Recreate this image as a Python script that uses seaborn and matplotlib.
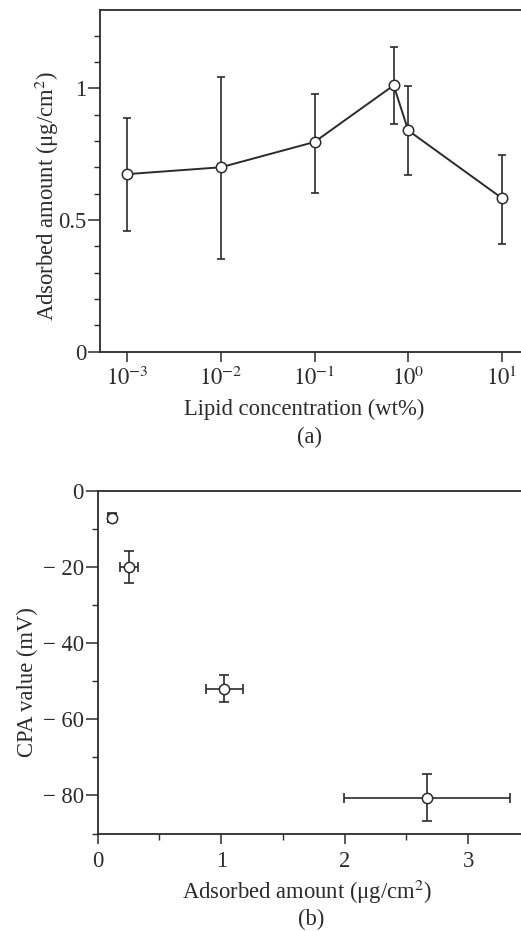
import matplotlib
matplotlib.use("Agg")
import matplotlib.pyplot as plt
import seaborn as sns
import numpy as np
import pandas as pd
from matplotlib.ticker import FixedLocator, MultipleLocator, FixedFormatter, NullFormatter

# ---- data (a) ----
lipid_conc = [0.001, 0.01, 0.1, 0.7, 1.0, 10.0]
adsorbed_a = [0.674, 0.700, 0.796, 1.011, 0.840, 0.583]
err_a_low = [0.214, 0.348, 0.193, 0.148, 0.171, 0.173]
err_a_high = [0.212, 0.342, 0.184, 0.144, 0.169, 0.163]
xticks_a = [0.001, 0.01, 0.1, 1, 10]
xticklabels_a = ["$10^{-3}$", "$10^{-2}$", "$10^{-1}$", "$10^{0}$", "$10^{1}$"]
yticks_a = [0, 0.5, 1]
yticklabels_a = ["0", "0.5", "1"]

# ---- data (b) ----
adsorbed_b = [0.115, 0.251, 1.025, 2.666]
cpa = [-7.1, -20.0, -52.0, -80.6]
xerr_b = [0.035, 0.072, 0.150, 0.675]
yerr_b = [1.2, 4.2, 3.5, 6.2]
xticks_b = [0, 1, 2, 3]
yticks_b = [0, -20, -40, -60, -80]
yticklabels_b = ["0", "\u2212 20", "\u2212 40", "\u2212 60", "\u2212 80"]

sns.set_theme(style="ticks")
plt.rcParams["font.family"] = ["Liberation Serif", "DejaVu Serif"]
plt.rcParams["mathtext.fontset"] = "stix"
dark = "#2b2b2b"
plt.rcParams.update({
    "axes.edgecolor": dark, "axes.labelcolor": dark, "text.color": dark,
    "xtick.color": dark, "ytick.color": dark, "axes.linewidth": 1.3,
    "xtick.major.width": 1.1, "ytick.major.width": 1.1,
    "xtick.minor.width": 1.0, "ytick.minor.width": 1.0,
    "xtick.direction": "out", "ytick.direction": "out",
})

W, H = 521, 931
fig = plt.figure(figsize=(W / 100, H / 100), dpi=100)
fs = 16.3

# ---------------- panel (a) ----------------
ax1 = fig.add_axes([100 / W, 1 - 351.7 / H, 1 - 100 / W + 0.01, (351.7 - 10) / H])
ax1.set_xscale("log")
ax1.errorbar(lipid_conc, adsorbed_a, yerr=[err_a_low, err_a_high], fmt="none",
             ecolor=dark, elinewidth=1.2, capsize=3.0, capthick=1.2, zorder=2)
df_a = pd.DataFrame({"conc": lipid_conc, "amt": adsorbed_a})
sns.lineplot(data=df_a, x="conc", y="amt", ax=ax1, color=dark, linewidth=1.4,
             marker="o", markersize=7.5, markerfacecolor="white",
             markeredgecolor=dark, markeredgewidth=1.1, sort=False, zorder=3)
ax1.set_xlim(10 ** -3.29, 10 ** 1.26)
ax1.set_ylim(0, 1.297)
ax1.xaxis.set_major_locator(FixedLocator(xticks_a))
ax1.xaxis.set_major_formatter(FixedFormatter(xticklabels_a))
ax1.xaxis.set_minor_locator(FixedLocator([]))
ax1.yaxis.set_major_locator(FixedLocator(yticks_a))
ax1.yaxis.set_major_formatter(FixedFormatter(yticklabels_a))
ax1.yaxis.set_minor_locator(MultipleLocator(0.1))
ax1.tick_params(axis="x", which="major", labelsize=fs, length=7, pad=4)
ax1.tick_params(axis="y", which="major", labelsize=fs, length=9, pad=1.0)
ax1.tick_params(axis="both", which="minor", length=4)
ax1.spines["right"].set_visible(False)
ax1.set_xlabel("Lipid concentration (wt%)", fontsize=fs, labelpad=6.0)
ax1.set_ylabel("Adsorbed amount (\u03bcg/cm$^2$)", fontsize=fs, labelpad=-2.0)
ax1.xaxis.label.set_x(0.479)
ax1.yaxis.label.set_y(0.456)
fig.text(309 / W, 1 - 437 / H, "(a)", ha="center", va="center", fontsize=fs)

# ---------------- panel (b) ----------------
ax2 = fig.add_axes([97.7 / W, 1 - 834.3 / H, 1 - 97.7 / W + 0.01, (834.3 - 490.7) / H])
ax2.errorbar(adsorbed_b, cpa, xerr=xerr_b, yerr=yerr_b, fmt="none",
             ecolor=dark, elinewidth=1.2, capsize=3.5, capthick=1.2, zorder=2)
df_b = pd.DataFrame({"amt": adsorbed_b, "cpa": cpa})
sns.scatterplot(data=df_b, x="amt", y="cpa", ax=ax2, s=55, marker="o",
                facecolor="white", edgecolor=dark, linewidth=1.1, zorder=3)
ax2.set_xlim(0, 3.47)
ax2.set_ylim(-90.2, 0)
ax2.xaxis.set_major_locator(FixedLocator(xticks_b))
ax2.xaxis.set_minor_locator(MultipleLocator(0.5))
ax2.yaxis.set_major_locator(FixedLocator(yticks_b))
ax2.yaxis.set_major_formatter(FixedFormatter(yticklabels_b))
ax2.yaxis.set_minor_locator(MultipleLocator(10))
ax2.tick_params(axis="x", which="major", labelsize=fs, length=7, pad=5.0)
ax2.tick_params(axis="y", which="major", labelsize=fs, length=9, pad=1.0)
ax2.tick_params(axis="both", which="minor", length=4)
ax2.spines["right"].set_visible(False)
ax2.set_xlabel("Adsorbed amount (\u03bcg/cm$^2$)", fontsize=fs, labelpad=4.0)
ax2.set_ylabel("CPA value (mV)", fontsize=fs, labelpad=3)
ax2.xaxis.label.set_x(0.488)
ax2.yaxis.label.set_y(0.443)
fig.text(311 / W, 1 - 919 / H, "(b)", ha="center", va="center", fontsize=fs)

fig.savefig("out.png", dpi=100)
